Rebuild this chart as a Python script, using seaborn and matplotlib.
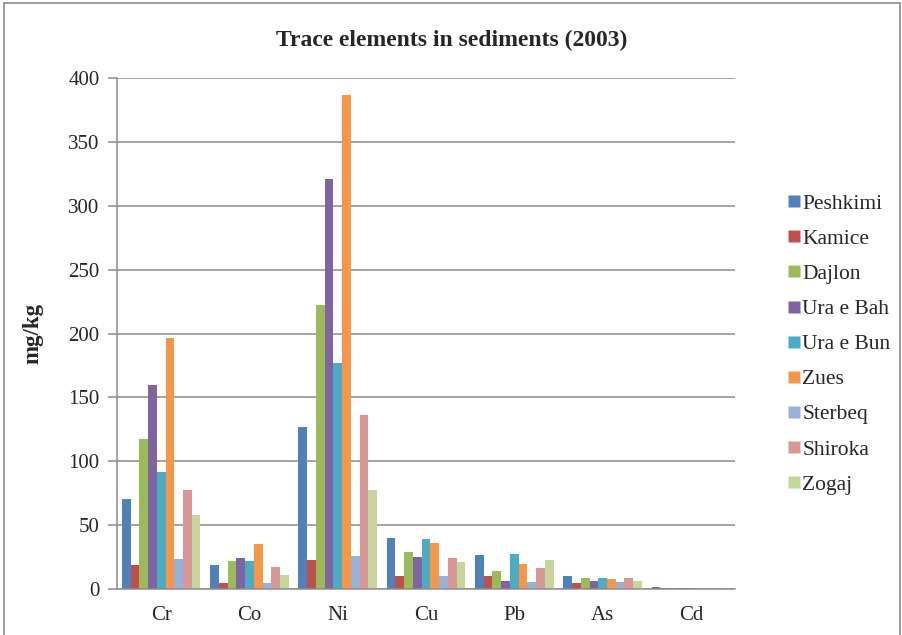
import matplotlib
matplotlib.use("Agg")
import matplotlib.pyplot as plt
from matplotlib.lines import Line2D
from matplotlib.ticker import MultipleLocator
import pandas as pd
import seaborn as sns

# values (mg/kg)
elements = ["Cr", "Co", "Ni", "Cu", "Pb", "As", "Cd"]
sites = ["Peshkimi", "Kamice", "Dajlon", "Ura e Bah", "Ura e Bun",
         "Zues", "Sterbeq", "Shiroka", "Zogaj"]
peshkimi = [70.6, 19, 126.6, 40, 26.4, 10.4, 1.2]
kamice = [19.2, 5, 23, 10, 10.4, 4.4, 0.9]
dajlon = [117.6, 22, 222, 29, 14.2, 8.3, 1.1]
ura_e_bah = [160, 24, 321.4, 25, 6.5, 6.5, 1.0]
ura_e_bun = [92, 22, 176.6, 39, 27.2, 9, 1.1]
zues = [196.2, 35, 386.8, 36, 19.4, 7.5, 1.0]
sterbeq = [23.4, 5, 26, 10, 5.2, 5.4, 0.8]
shiroka = [77.5, 17, 136.5, 24, 16.3, 8.3, 1.0]
zogaj = [58.2, 11, 77.2, 21, 23, 6.5, 0.9]
series = [peshkimi, kamice, dajlon, ura_e_bah, ura_e_bun, zues, sterbeq, shiroka, zogaj]

colors = ["#4F81BD", "#C0504D", "#9BBB59", "#8064A2", "#4BACC6",
          "#F79646", "#95B3D7", "#D99694", "#C3D69B"]

rows = []
for site, vals in zip(sites, series):
    for el, v in zip(elements, vals):
        rows.append({"element": el, "site": site, "value": v})
df = pd.DataFrame(rows)

sns.set_style("white")
plt.rcParams["font.family"] = ["Liberation Serif", "DejaVu Serif"]

fig = plt.figure(figsize=(9.03, 6.35), dpi=100)
ax = fig.add_axes([0.1296, 0.0724, 0.6844, 0.8046])

sns.barplot(data=df, x="element", y="value", hue="site", order=elements,
            hue_order=sites, palette=colors, width=0.89, saturation=1,
            edgecolor="none", linewidth=0, ax=ax, legend=False)

ax.set_ylim(0, 400)
ax.set_xlim(-0.5, len(elements) - 0.5)
ax.yaxis.set_major_locator(MultipleLocator(50))
ax.grid(axis="y", color="#8c8c8c", linewidth=1.1)
ax.set_axisbelow(True)

for s in ["top", "right"]:
    ax.spines[s].set_visible(False)
for s in ["left", "bottom"]:
    ax.spines[s].set_color("#8c8c8c")
    ax.spines[s].set_linewidth(1.1)

# category labels centred, tick marks between categories
ax.set_xticks(range(len(elements)))
ax.set_xticklabels(elements)
ax.set_xticks([i + 0.5 for i in range(-1, len(elements))], minor=True)
ax.tick_params(axis="x", which="major", length=0, labelsize=15, pad=12)
ax.tick_params(axis="x", which="minor", length=6.5, color="#8c8c8c", width=1.1)
ax.tick_params(axis="y", length=6.5, color="#8c8c8c", width=1.1, labelsize=15, left=True, pad=6)

ax.set_xlabel("")
ax.set_ylabel("mg/kg", fontsize=16.5, fontweight="bold", labelpad=18)

fig.text(0.5, 0.937, "Trace elements in sediments (2003)", ha="center", va="center",
         fontsize=17, fontweight="bold")

handles = [Line2D([0], [0], marker="s", linestyle="none", markersize=8,
                  markerfacecolor=c, markeredgecolor="none") for c in colors]
fig.legend(handles, sites, loc="center left", bbox_to_anchor=(0.873, 0.458),
           frameon=False, fontsize=15.5, labelspacing=0.7, handlelength=0.55,
           handletextpad=0.1, borderaxespad=0, borderpad=0)

# outer chart frame
fig.add_artist(plt.Rectangle((0.004, -0.01), 0.993, 1.006, transform=fig.transFigure,
                             fill=False, edgecolor="#8c8c8c", linewidth=1.2))

fig.savefig("out.png", dpi=100)
